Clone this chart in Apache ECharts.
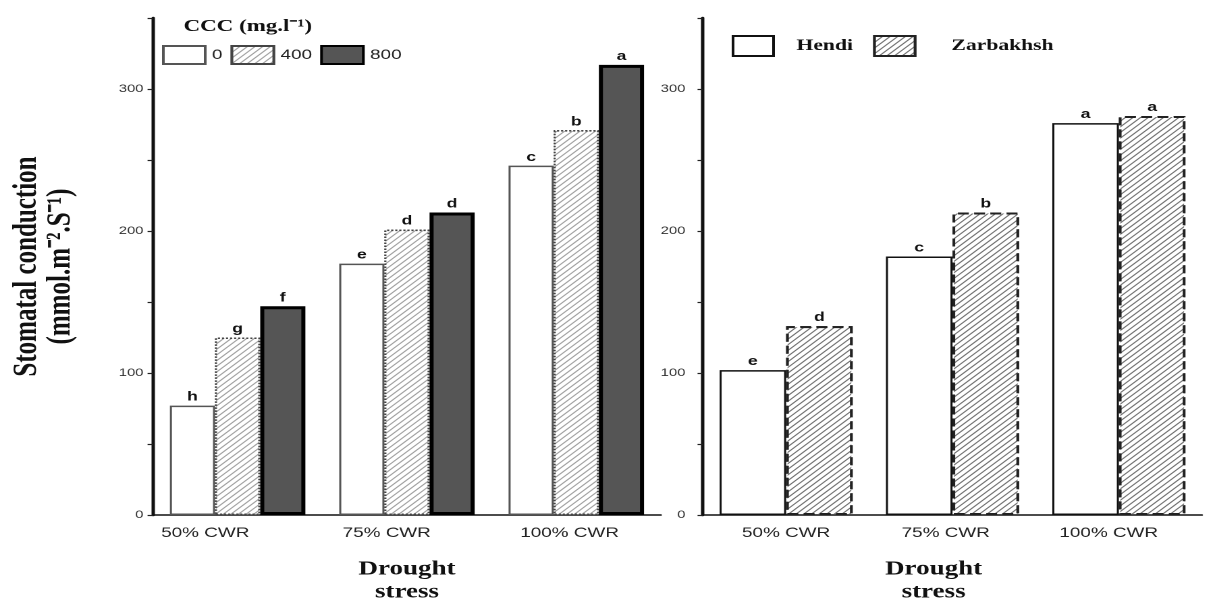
<!DOCTYPE html>
<html><head><meta charset="utf-8">
<script src="https://cdn.jsdelivr.net/npm/echarts@6/dist/echarts.min.js"></script>
<style>
html,body{margin:0;padding:0;background:#fff;overflow:hidden}
#wrap{width:1223px;height:609px;overflow:hidden;position:relative;background:#fff}
#chart{width:906px;height:609px;transform:scaleX(1.35);transform-origin:0 0;position:absolute;left:0;top:0}
</style></head>
<body><div id="wrap"><div id="chart"></div></div>
<script>
// ---- data ----
const categories = ['50% CWR', '75% CWR', '100% CWR'];
const ccc0 = [77, 177, 246];
const ccc400 = [125, 201, 271];
const ccc800 = [147, 213, 317];
const letters0 = ['h', 'e', 'c'];
const letters400 = ['g', 'd', 'b'];
const letters800 = ['f', 'd', 'a'];
const hendi = [102, 182, 276];
const zarbakhsh = [133, 213, 281];
const lettersHendi = ['e', 'c', 'a'];
const lettersZar = ['d', 'b', 'a'];
const yMax = 350;
const yStep = 50;
const yLabelStep = 100;
const yLabelMax = 300;

// ---- styles ----
const serif = 'Liberation Serif';
const sans = 'Liberation Sans';
const leftShift = [48, 30, 10];
const rightShift = [0, 10, 15];

function hatch(col, w, gap) {
  return {symbol: 'rect', symbolSize: 1, dashArrayX: [1, 0], dashArrayY: [w, gap],
          rotation: -Math.PI / 4, color: col, backgroundColor: '#fff'};
}
function barLabel(arr) {
  return {show: true, position: 'top', distance: 2, fontSize: 13, fontWeight: 'bold',
          fontFamily: sans, color: '#111', formatter: p => arr[p.dataIndex]};
}
function yAxis(gi, margin, withName) {
  const a = {
    gridIndex: gi, type: 'value', min: 0, max: yMax, interval: yStep,
    axisLine: {show: true, lineStyle: {color: '#111', width: 2.5}},
    axisTick: {show: true, length: 4, lineStyle: {color: '#222', width: 1.2}},
    splitLine: {show: false},
    axisLabel: {margin: margin, fontSize: 11, fontFamily: sans, color: '#333',
      formatter: v => (v % yLabelStep === 0 && v <= yLabelMax) ? String(v) : ''}
  };
  if (withName) {
    a.name = 'Stomatal conduction\n(mmol.m\u207B\u00B2.S\u207B\u00B9)';
    a.nameLocation = 'middle';
    a.nameRotate = 90;
    a.nameGap = 56;
    a.nameTextStyle = {fontFamily: serif, fontWeight: 'bold', fontSize: 25, color: '#111', lineHeight: 25};
  }
  return a;
}
function xAxis(gi, shifts, namePad) {
  const rich = {};
  shifts.forEach((s, i) => { rich['p' + i] = {fontSize: 14, fontFamily: sans, color: '#222', padding: [0, s, 0, 0]}; });
  return {
    gridIndex: gi, type: 'category', data: categories,
    axisLine: {lineStyle: {color: '#111', width: 1.5}},
    axisTick: {alignWithLabel: true, length: 4, lineStyle: {color: '#222'}},
    axisLabel: {interval: 0, margin: 11, fontSize: 14, fontFamily: sans, color: '#222',
      formatter: (v, i) => '{p' + i + '|' + v + '}', rich: rich},
    name: 'Drought\nstress', nameLocation: 'middle', nameGap: 43,
    nameTextStyle: {fontFamily: serif, fontWeight: 'bold', fontSize: 20, color: '#111',
      lineHeight: 23, padding: [0, namePad, 0, 0]}
  };
}

const chart = echarts.init(document.getElementById('chart'), null, {devicePixelRatio: 2});
chart.setOption({
  animation: false,
  backgroundColor: '#fff',
  title: [{text: 'CCC (mg.l\u207B\u00B9)', left: 131, top: 13,
    textStyle: {fontFamily: serif, fontWeight: 'bold', fontSize: 17, color: '#111'}}],
  legend: [
    {data: ['0', '400', '800'], left: 115, top: 40, icon: 'rect', itemWidth: 31, itemHeight: 18, itemGap: 6,
     textStyle: {fontFamily: sans, fontSize: 14, color: '#222'}},
    {data: [{name: 'Hendi', textStyle: {padding: [0, 0, 0, 12]}}, {name: 'Zarbakhsh', textStyle: {padding: [0, 0, 0, 22]}}],
     left: 537, top: 30, icon: 'rect', itemWidth: 30, itemHeight: 20, itemGap: 15,
     textStyle: {fontFamily: serif, fontWeight: 'bold', fontSize: 16, color: '#111'}}
  ],
  grid: [
    {left: 113.3, top: 18, width: 376.3, height: 498.5},
    {left: 520.7, top: 18, width: 369.7, height: 498.5}
  ],
  xAxis: [xAxis(0, leftShift, 0), xAxis(1, rightShift, 28)],
  yAxis: [yAxis(0, 7, true), yAxis(1, 13, false)],
  series: [
    {name: '0', type: 'bar', xAxisIndex: 0, yAxisIndex: 0, data: ccc0, barGap: '0%', barCategoryGap: '20%',
     itemStyle: {color: '#fff', borderColor: '#555', borderWidth: 1.5}, label: barLabel(letters0)},
    {name: '400', type: 'bar', xAxisIndex: 0, yAxisIndex: 0, data: ccc400, barGap: '0%', barCategoryGap: '20%',
     itemStyle: {color: '#fff', borderColor: '#444', borderWidth: 1.5, borderType: 'dotted', decal: hatch('#a0a0a0', 0.8, 2.2)},
     label: barLabel(letters400)},
    {name: '800', type: 'bar', xAxisIndex: 0, yAxisIndex: 0, data: ccc800, barGap: '0%', barCategoryGap: '20%',
     itemStyle: {color: '#555', borderColor: '#000', borderWidth: 3}, label: barLabel(letters800)},
    {name: 'Hendi', type: 'bar', xAxisIndex: 1, yAxisIndex: 1, data: hendi, barGap: '0%', barCategoryGap: '20%',
     itemStyle: {color: '#fff', borderColor: '#111', borderWidth: 1.5}, label: barLabel(lettersHendi)},
    {name: 'Zarbakhsh', type: 'bar', xAxisIndex: 1, yAxisIndex: 1, data: zarbakhsh, barGap: '0%', barCategoryGap: '20%',
     itemStyle: {color: '#fff', borderColor: '#222', borderWidth: 2, borderType: 'dashed', decal: hatch('#707070', 0.8, 2.4)},
     label: barLabel(lettersZar)}
  ]
});
</script>
</body></html>
